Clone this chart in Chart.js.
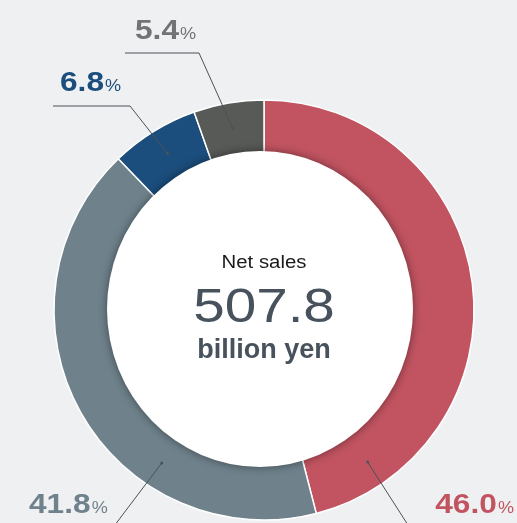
<!DOCTYPE html>
<html>
<head>
<meta charset="utf-8">
<script src="https://cdn.jsdelivr.net/npm/chart.js@4/dist/chart.umd.min.js"></script>
<style>
  html, body { margin: 0; padding: 0; background: #eff0f2; }
  #wrap { width: 517px; height: 523px; position: relative; }
</style>
</head>
<body>
<div id="wrap"><canvas id="salesChart"></canvas></div>
<script>
// Net sales breakdown (share of total, %)
const segments = ['Segment A', 'Segment B', 'Segment C', 'Segment D'];
const shares = [46.0, 41.8, 6.8, 5.4];
const shareLabels = ['46.0', '41.8', '6.8', '5.4'];
const totalTitle = 'Net sales';
const totalValue = '507.8';
const totalUnit = 'billion yen';

const colors = ['#c25461', '#6f828c', '#1b4e7d', '#585a57'];
const labelColors = ['#c25461', '#6f828c', '#1b4e7d', '#737373'];

// where each callout sits, relative to the chart centre
const callouts = [
    { at: 0.88, path: [[160, 240]], text: [250, 203], align: 'right' },
    { at: 0.32, path: [[-168, 240]], text: [-235, 203], align: 'left' },
    { at: 0.5, path: [[-134, -204], [-211, -204]], text: [-204, -219], align: 'left' },
    { at: 0.5, path: [[-65, -257], [-139, -257]], text: [-129, -271], align: 'left' }
];

const FONT = '"Liberation Sans", Arial, sans-serif';

function drawShare(ctx, x, y, num, color, align) {
    const sx = 1.13;
    ctx.save();
    ctx.fillStyle = color;
    ctx.textBaseline = 'alphabetic';
    ctx.textAlign = 'left';
    ctx.font = 'bold 28px ' + FONT;
    const w1 = ctx.measureText(num).width;
    ctx.font = '16px ' + FONT;
    const w2 = ctx.measureText('%').width;
    const total = (w1 + 1 + w2) * sx;
    const left = align === 'right' ? x - total : x;
    ctx.translate(left, y);
    ctx.scale(sx, 1);
    ctx.font = 'bold 28px ' + FONT;
    ctx.fillText(num, 0, 0);
    ctx.font = '16px ' + FONT;
    ctx.fillText('%', w1 + 1, 0);
    ctx.restore();
}

function drawCentered(ctx, text, x, y, font, color, sx) {
    ctx.save();
    ctx.font = font;
    ctx.fillStyle = color;
    ctx.textAlign = 'center';
    ctx.textBaseline = 'alphabetic';
    ctx.translate(x, y);
    ctx.scale(sx, 1);
    ctx.fillText(text, 0, 0);
    ctx.restore();
}

const donutDecor = {
    id: 'donutDecor',
    afterDatasetsDraw(chart) {
        const ctx = chart.ctx;
        const arcs = chart.getDatasetMeta(0).data;
        const first = arcs[0];
        const cx = first.x, cy = first.y;
        const outer = first.outerRadius;

        // white centre (slightly off-round like the original) with a soft shadow on the ring
        ctx.save();
        ctx.shadowColor = 'rgba(0, 0, 0, 0.45)';
        ctx.shadowBlur = 10;
        ctx.fillStyle = '#ffffff';
        ctx.beginPath();
        ctx.ellipse(cx - 4, cy - 1, 153, 158, 0, 0, Math.PI * 2);
        ctx.fill();
        ctx.restore();

        // callout lines
        const mid = (158 + outer) / 2;
        arcs.forEach((arc, i) => {
            const c = callouts[i];
            const a = arc.startAngle + (arc.endAngle - arc.startAngle) * c.at;
            const px = cx + mid * Math.cos(a);
            const py = cy + mid * Math.sin(a);
            ctx.save();
            ctx.strokeStyle = '#4b5259';
            ctx.lineWidth = 1;
            ctx.beginPath();
            ctx.moveTo(px, py);
            c.path.forEach(p => ctx.lineTo(cx + p[0], cy + p[1]));
            ctx.stroke();
            ctx.fillStyle = '#4b5259';
            ctx.beginPath();
            ctx.arc(px, py, 1.5, 0, Math.PI * 2);
            ctx.fill();
            ctx.restore();

            drawShare(ctx, cx + c.text[0], cy + c.text[1], shareLabels[i], labelColors[i], c.align);
        });

        // centre text
        drawCentered(ctx, totalTitle, cx, cy - 42, '18px ' + FONT, '#1a1a1a', 1.13);
        drawCentered(ctx, totalValue, cx, cy + 12, '48px ' + FONT, '#47525c', 1.18);
        drawCentered(ctx, totalUnit, cx, cy + 48, 'bold 27px ' + FONT, '#47525c', 1.0);
    }
};

const ctx = document.getElementById('salesChart').getContext('2d');
new Chart(ctx, {
    type: 'doughnut',
    data: {
        labels: segments,
        datasets: [{
            data: shares,
            backgroundColor: colors,
            borderColor: '#ffffff',
            borderWidth: 1.5
        }]
    },
    options: {
        responsive: true,
        maintainAspectRatio: false,
        animation: false,
        events: [],
        radius: 210,
        cutout: 145,
        layout: {
            padding: { left: 11, right: 0, top: 97, bottom: 0 }
        },
        plugins: {
            legend: { display: false },
            tooltip: { enabled: false }
        }
    },
    plugins: [donutDecor]
});
</script>
</body>
</html>
